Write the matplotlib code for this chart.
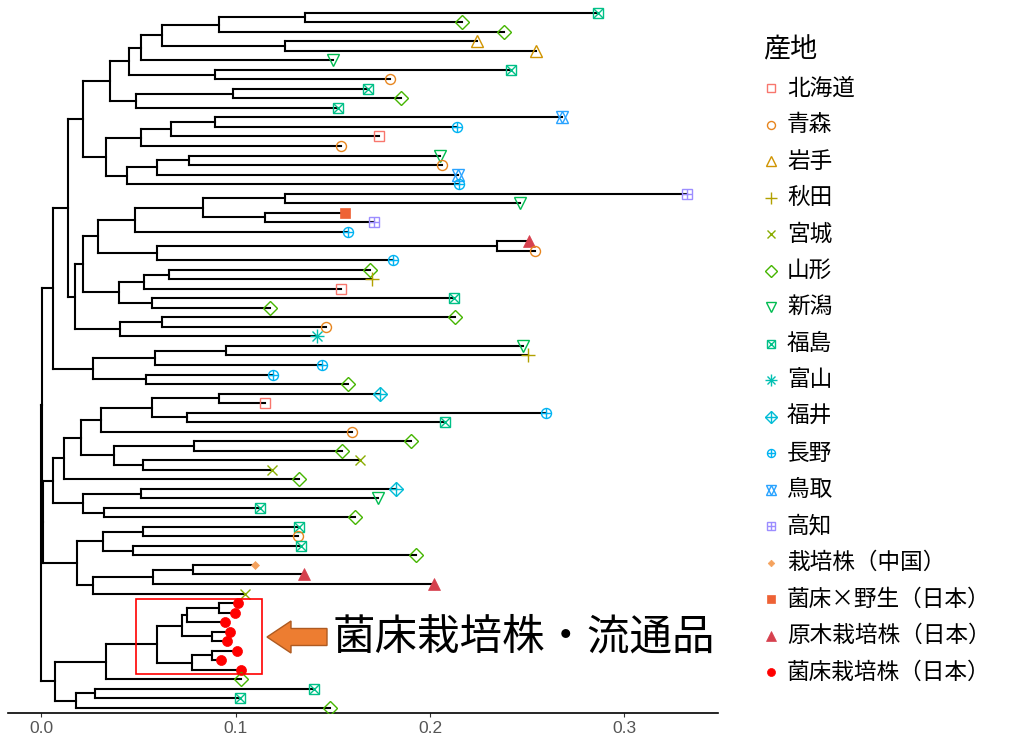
import re
import matplotlib
matplotlib.use("Agg")
import matplotlib.pyplot as plt
from matplotlib.collections import LineCollection
from matplotlib.patches import Rectangle, Polygon

plt.rcParams['font.family'] = ['Noto Sans CJK JP', 'DejaVu Sans']

# ---- legend categories (origin of each strain) ----
origin_keys = ["北海道", "青森", "岩手", "秋田", "宮城", "山形", "新潟", "福島", "富山",
               "福井", "長野", "鳥取", "高知", "中国", "菌床×野生", "原木", "菌床"]
origin_labels = ["北海道", "青森", "岩手", "秋田", "宮城", "山形", "新潟", "福島", "富山",
                 "福井", "長野", "鳥取", "高知", "栽培株（中国）", "菌床×野生（日本）",
                 "原木栽培株（日本）", "菌床栽培株（日本）"]
origin_colors = ["#F8766D", "#E7851E", "#D09400", "#B2A100", "#89AC00", "#45B500",
                 "#00BC51", "#00C087", "#00C0B2", "#00BCD6", "#00B3F2", "#29A3FF",
                 "#9C8DFF", "#F5A25D", "#EE6235", "#D6404E", "#FF0000"]

# ---- leaves, top to bottom ----
leaf_origin = [
    "福島", "山形", "山形", "岩手", "岩手", "新潟", "福島", "青森", "福島", "山形",
    "福島", "鳥取", "長野", "北海道", "青森", "新潟", "青森", "鳥取", "長野", "高知",
    "新潟", "菌床×野生", "高知", "長野", "原木", "青森", "長野", "山形", "秋田", "北海道",
    "福島", "山形", "山形", "青森", "富山", "新潟", "秋田", "長野", "長野", "山形",
    "福井", "北海道", "長野", "福島", "青森", "山形", "山形", "宮城", "宮城", "山形",
    "福井", "新潟", "福島", "山形", "福島", "青森", "福島", "山形", "中国", "原木",
    "原木", "宮城", "菌床", "菌床", "菌床", "菌床", "菌床", "菌床", "菌床", "菌床",
    "山形", "福島", "福島", "山形",
]
leaf_depth = [
    0.2864, 0.2165, 0.2380, 0.2240, 0.2546, 0.1500, 0.2414, 0.1795, 0.1680, 0.1850,
    0.1529, 0.2680, 0.2140, 0.1736, 0.1540, 0.2049, 0.2060, 0.2145, 0.2150, 0.3324,
    0.2463, 0.1565, 0.1710, 0.1580, 0.2510, 0.2538, 0.1810, 0.1690, 0.1700, 0.1540,
    0.2122, 0.1177, 0.2127, 0.1465, 0.1421, 0.2480, 0.2504, 0.1444, 0.1191, 0.1577,
    0.1743, 0.1152, 0.2595, 0.2078, 0.1600, 0.1900, 0.1545, 0.1642, 0.1187, 0.1325,
    0.1823, 0.1734, 0.1127, 0.1616, 0.1325, 0.1320, 0.1336, 0.1926, 0.1101, 0.1354,
    0.2023, 0.1051, 0.1013, 0.0997, 0.0945, 0.0971, 0.0956, 0.1009, 0.0926, 0.1030,
    0.1030, 0.1401, 0.1021, 0.1487,
]

# ---- topology: "(child,child)depth", leaves are 1-based indices, capitals name sub-clades ----
clades = {
    "A": "((((1,2)0.1357,3)0.0915,(4,5)0.1255)0.0622,6)0.0514",
    "B": "(7,8)0.0892",
    "AB": "(A,B)0.0453",
    "C": "((9,10)0.0989,11)0.0486",
    "ABC": "(AB,C)0.0355",
    "D": "(((12,13)0.0895,14)0.0669,15)0.0516",
    "E": "(((16,17)0.0759,18)0.0597,19)0.0442",
    "DE": "(D,E)0.0334",
    "TOP": "(ABC,DE)0.0217",
    "F": "(((20,21)0.1253,(22,23)0.1152)0.0833,24)0.0483",
    "G": "((25,26)0.2345,27)0.0598",
    "FG": "(F,G)0.0293",
    "H": "(((28,29)0.0660,30)0.0530,(31,32)0.0570)0.0403",
    "FGH": "(FG,H)0.0217",
    "I": "((33,34)0.0621,35)0.0405",
    "FGHI": "(FGH,I)0.0173",
    "UPA": "(TOP,FGHI)0.0139",
    "J": "((36,37)0.0952,38)0.0584",
    "K": "(39,40)0.0538",
    "JK": "(J,K)0.0267",
    "UP": "(UPA,JK)0.0060",
    "L": "(((41,42)0.0913,(43,44)0.0752)0.0573,45)0.0309",
    "M": "((46,47)0.0785,(48,49)0.0522)0.0375",
    "LM": "(L,M)0.0205",
    "N": "(LM,50)0.0116",
    "O": "((51,52)0.0516,(53,54)0.0322)0.0216",
    "NO": "(N,O)0.0060",
    "P": "((55,56)0.0522,(57,58)0.0474)0.0318",
    "Q": "(((59,60)0.0782,61)0.0575,62)0.0269",
    "PQ": "(P,Q)0.0187",
    "NOPQ": "(NO,PQ)0.0012",
    "R": "((((63,64)0.0917,65)0.0751,(66,67)0.0877)0.0725,((68,69)0.0877,70)0.0777)0.0595",
    "S": "(R,71)0.0335",
    "T": "((72,73)0.0278,74)0.0179",
    "ST": "(S,T)0.0073",
    "ROOT": "((UP,NOPQ)0.0003,ST)0",
}

tick_values = [0.0, 0.1, 0.2, 0.3]
tick_labels = ["0.0", "0.1", "0.2", "0.3"]


def expand(name):
    return re.sub(r"[A-Z]+", lambda m: expand(m.group()), clades[name])


def parse(s, i=0):
    if s[i] == "(":
        children = []
        i += 1
        while True:
            child, i = parse(s, i)
            children.append(child)
            if s[i] == ",":
                i += 1
                continue
            i += 1  # closing bracket
            break
        m = re.match(r"[0-9.]+", s[i:])
        return ("node", float(m.group()), children), i + m.end()
    m = re.match(r"\d+", s[i:])
    return ("leaf", int(m.group())), i + m.end()


tree, _ = parse(expand("ROOT"))

segments = []


def layout(node):
    if node[0] == "leaf":
        k = node[1]
        return leaf_depth[k - 1], float(k)
    depth = node[1]
    pts = [layout(c) for c in node[2]]
    ys = [p[1] for p in pts]
    segments.append([(depth, min(ys)), (depth, max(ys))])
    for cx, cy in pts:
        segments.append([(depth, cy), (cx, cy)])
    return depth, sum(ys) / len(ys)


layout(tree)

# marker recipes per origin: (matplotlib marker, size, filled)
marker_parts = {
    "北海道": [("s", 6.8, False)],
    "青森": [("o", 7.2, False)],
    "岩手": [("^", 8.8, False)],
    "秋田": [("+", 10.0, None)],
    "宮城": [("x", 7.8, None)],
    "山形": [("D", 7.2, False)],
    "新潟": [("v", 8.8, False)],
    "福島": [("s", 6.8, False), ("x", 6.8, None)],
    "富山": [("+", 10.0, None), ("x", 7.5, None)],
    "福井": [("D", 7.2, False), ("+", 10.2, None)],
    "長野": [("o", 7.2, False), ("+", 7.2, None)],
    "鳥取": [("^", 8.8, False), ("v", 8.8, False)],
    "高知": [("s", 6.8, False), ("+", 6.8, None)],
    "中国": [("D", 4.2, True)],
    "菌床×野生": [("s", 7.0, True)],
    "原木": [("^", 9.0, True)],
    "菌床": [("o", 7.2, True)],
}
color_of = dict(zip(origin_keys, origin_colors))


def draw_marker(ax, x, y, key, scale=1.0, z=3):
    col = color_of[key]
    for mk, ms, filled in marker_parts[key]:
        kw = dict(marker=mk, markersize=ms * scale, linestyle="none", zorder=z,
                  markeredgewidth=1.0, color=col)
        if filled is False:
            kw["markerfacecolor"] = "none"
        elif filled is True:
            kw["markerfacecolor"] = col
            kw["markeredgewidth"] = 0.5
        ax.plot([x], [y], **kw)


W, H = 1033, 739
fig = plt.figure(figsize=(W / 100, H / 100), dpi=100)
ax = fig.add_axes([8 / W, (H - 713) / H, 710 / W, 713 / H])

ax.add_collection(LineCollection(segments, colors="black", linewidths=1.5,
                                 capstyle="projecting", zorder=2))
for i, key in enumerate(leaf_origin):
    draw_marker(ax, leaf_depth[i], i + 1, key)

# highlight box around the bed-cultivated cluster
ax.add_patch(Rectangle((0.0488, 62.6), 0.0648, 7.9, fill=False,
                       edgecolor="red", linewidth=1.2, zorder=4))

ax.set_xlim(-0.0170, 0.3481)
ax.set_ylim(74.55, -0.334)
for side in ["top", "right", "left"]:
    ax.spines[side].set_visible(False)
ax.spines["bottom"].set_linewidth(1.2)
ax.set_yticks([])
ax.set_xticks(tick_values)
ax.set_xticklabels(tick_labels, fontfamily="Liberation Sans")
ax.tick_params(axis="x", length=3, width=0.8, color="#333333",
               labelsize=12.5, labelcolor="#555555", pad=3)
ax.set_facecolor("white")

# overlay in pixel coordinates for annotation and legend
ov = fig.add_axes([0, 0, 1, 1])
ov.set_xlim(0, W)
ov.set_ylim(H, 0)
ov.axis("off")

arrow = Polygon([(267, 637), (291, 621), (291, 628.5), (327, 628.5),
                 (327, 645.5), (291, 645.5), (291, 653)], closed=True,
                facecolor="#ED7D31", edgecolor="#AE5A21", linewidth=1.0, zorder=5)
ov.add_patch(arrow)
ov.text(333, 637, "菌床栽培株・流通品", fontsize=30.6, ha="left", va="center",
        color="black", zorder=5)

ov.text(763, 50, "産地", fontsize=19.5, ha="left", va="center", color="black")
for i, (key, lab) in enumerate(zip(origin_keys, origin_labels)):
    yy = 88 + i * 36.5
    draw_marker(ov, 771, yy, key, scale=0.8)
    ov.text(787, yy, lab, fontsize=16.3, ha="left", va="center", color="black")

fig.savefig("out.png", dpi=100)
